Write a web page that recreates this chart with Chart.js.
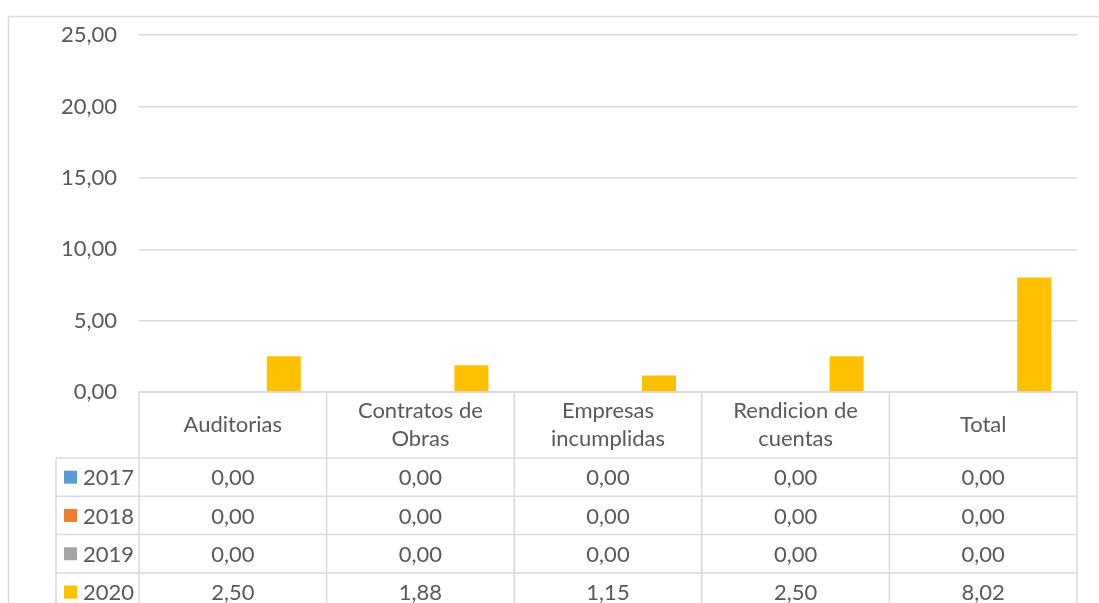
<!DOCTYPE html>
<html>
<head>
<meta charset="utf-8">
<script src="https://cdn.jsdelivr.net/npm/chart.js@4.4.0/dist/chart.umd.min.js"></script>
<style>
    html, body { margin: 0; padding: 0; background: #ffffff; }
    canvas { display: block; }
</style>
</head>
<body>
<canvas id="chart" width="1099" height="603"></canvas>
<script>
// Data
const categories = [
    ['Auditorias'],
    ['Contratos de', 'Obras'],
    ['Empresas', 'incumplidas'],
    ['Rendicion de', 'cuentas'],
    ['Total'],
];
const years = ['2017', '2018', '2019', '2020'];
const values2017 = [0, 0, 0, 0, 0];
const values2018 = [0, 0, 0, 0, 0];
const values2019 = [0, 0, 0, 0, 0];
const values2020 = [2.50, 1.88, 1.15, 2.50, 8.02];
const yMax = 25;
const yStep = 5;

const seriesColors = ['#5B9BD5', '#ED7D31', '#A5A5A5', '#FFC000'];
const textColor = '#595959';
const lineColor = '#d9d9d9';
const fontFamily = 'Lato, "Open Sans", sans-serif';
const fontSize = 22;

function fmt(v) {
    return v.toFixed(2).replace('.', ',');
}

// Outer frame
const framePlugin = {
    id: 'frame',
    beforeDraw(chart) {
        const ctx = chart.ctx;
        ctx.save();
        ctx.strokeStyle = lineColor;
        ctx.lineWidth = 1.5;
        ctx.strokeRect(8.5, 16.5, 1300, 800);
        ctx.restore();
    }
};

// Data table under the plot
const tablePlugin = {
    id: 'dataTable',
    afterDraw(chart) {
        const ctx = chart.ctx;
        const area = chart.chartArea;
        const x = chart.scales.x;
        const n = chart.data.labels.length;
        const colW = (area.right - area.left) / n;
        const top = area.bottom;
        const headerH = 66;
        const rowH = 38.3;
        const legendLeft = 56;
        const rows = chart.data.datasets.length;
        const bottom = top + headerH + rows * rowH;

        ctx.save();
        ctx.strokeStyle = lineColor;
        ctx.lineWidth = 1.5;

        // horizontal lines
        ctx.beginPath();
        ctx.moveTo(area.left, top);
        ctx.lineTo(area.right, top);
        for (let r = 0; r <= rows; r++) {
            const y = top + headerH + r * rowH;
            ctx.moveTo(legendLeft, y);
            ctx.lineTo(area.right, y);
        }
        // vertical lines
        ctx.moveTo(legendLeft, top + headerH);
        ctx.lineTo(legendLeft, bottom);
        for (let c = 0; c <= n; c++) {
            const xx = area.left + c * colW;
            ctx.moveTo(xx, top);
            ctx.lineTo(xx, bottom);
        }
        ctx.stroke();

        ctx.fillStyle = textColor;
        ctx.font = fontSize + 'px ' + fontFamily;
        ctx.textAlign = 'center';
        ctx.textBaseline = 'middle';

        // header labels
        chart.data.labels.forEach((lines, i) => {
            const cx = x.getPixelForValue(i);
            const lh = 28.5;
            const cy = top + headerH / 2;
            lines.forEach((line, k) => {
                ctx.fillText(line, cx, cy + (k - (lines.length - 1) / 2) * lh);
            });
        });

        // rows
        chart.data.datasets.forEach((ds, r) => {
            const cy = top + headerH + r * rowH + rowH / 2;
            ctx.fillStyle = ds.backgroundColor;
            ctx.fillRect(64, cy - 6.5, 13, 13);
            ctx.fillStyle = textColor;
            ctx.textAlign = 'left';
            ctx.fillText(ds.label, 83, cy + 1);
            ctx.textAlign = 'center';
            ds.data.forEach((v, i) => {
                ctx.fillText(fmt(v), x.getPixelForValue(i), cy + 1);
            });
        });
        ctx.restore();
    }
};

const seriesValues = [values2017, values2018, values2019, values2020];

new Chart(document.getElementById('chart').getContext('2d'), {
    type: 'bar',
    data: {
        labels: categories,
        datasets: years.map((year, i) => ({
            label: year,
            data: seriesValues[i],
            backgroundColor: seriesColors[i],
            borderWidth: 0,
        })),
    },
    options: {
        responsive: false,
        animation: false,
        events: [],
        layout: { padding: { left: 0, right: 22, top: 27, bottom: 211 } },
        datasets: {
            bar: { categoryPercentage: 0.725, barPercentage: 1.0 }
        },
        plugins: {
            legend: { display: false },
            tooltip: { enabled: false },
        },
        scales: {
            x: {
                ticks: { display: false },
                grid: { display: false, drawTicks: false },
                border: { display: false },
            },
            y: {
                min: 0,
                max: yMax,
                afterFit(scale) { scale.width = 139; },
                ticks: {
                    stepSize: yStep,
                    padding: 22,
                    color: textColor,
                    font: { family: fontFamily, size: fontSize },
                    callback: v => fmt(v),
                },
                grid: { color: lineColor, lineWidth: 1.5, drawTicks: false },
                border: { display: false },
            },
        },
    },
    plugins: [framePlugin, tablePlugin],
});
</script>
</body>
</html>
